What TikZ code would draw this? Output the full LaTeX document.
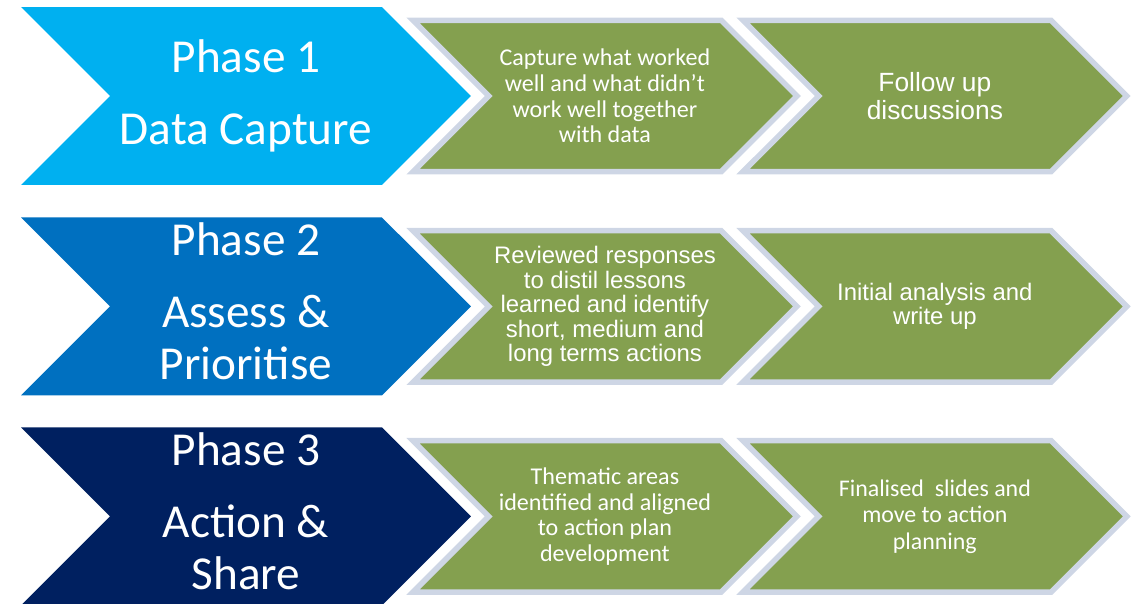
\documentclass[tikz,border=0pt]{standalone}
\usepackage{fontspec}
\usepackage{xcolor}
\usetikzlibrary{positioning,shapes.symbols}

\newfontfamily\calibri{Carlito}
\newfontfamily\arial{Liberation Sans}

\definecolor{ph1}{HTML}{00B0F0}
\definecolor{ph2}{HTML}{0070C0}
\definecolor{ph3}{HTML}{002060}
\definecolor{olv}{HTML}{84A04F}
\definecolor{rim}{HTML}{CED6E5}

\begin{document}
\begin{tikzpicture}[x=0.02cm, y=-0.02cm]
\tikzstyle{phs}=[signal, signal from=west, signal to=east, inner sep=0pt, minimum width=9cm, minimum height=3.56cm, text=white, align=center, font=\calibri\fontsize{26.9}{29.5}\selectfont]
\tikzstyle{stp}=[signal, signal from=west, signal to=east, inner sep=0pt, minimum width=7.68cm, minimum height=3.03cm, fill=olv, draw=rim, line width=0.11cm, text=white, align=center]
\tikzstyle{cal}=[font=\calibri\fontsize{13.7}{14.6}\selectfont]
\tikzstyle{ari}=[font=\arial\fontsize{13.6}{14}\selectfont]

\useasboundingbox (0,0) rectangle (1137,604);

% phases down the left
\node[phs, fill=ph1] (P1) at (246,96) {Phase 1\\[11.9pt]Data Capture};
\node[phs, fill=ph2, text depth=0.22cm, node distance=4.21cm, below of = P1] (P2) {Phase 2\\[11.9pt]Assess \&\\Prioritise};
\node[phs, fill=ph3, text depth=0.22cm, node distance=4.2cm, below of = P2] (P3) {Phase 3\\[11.9pt]Action \&\\Share};

% steps of phase 1
\node[stp, cal, node distance=7.18cm, right of = P1] (S11) {Capture what worked\\well and what didn’t\\work well together\\with data};
\node[stp, ari, font=\arial\fontsize{15}{15.5}\selectfont, node distance=6.6cm, right of = S11] (S12) {Follow up\\discussions};

% steps of phase 2
\node[stp, ari, node distance=7.18cm, right of = P2] (S21) {Reviewed responses\\to distil lessons\\learned and identify\\short, medium and\\long terms actions};
\node[stp, ari, node distance=6.6cm, right of = S21] (S22) {Initial analysis and\\write up};

% steps of phase 3
\node[stp, cal, node distance=7.18cm, right of = P3] (S31) {Thematic areas\\identified and aligned\\to action plan\\development};
\node[stp, cal, font=\calibri\fontsize{13.6}{15.1}\selectfont, node distance=6.6cm, right of = S31] (S32) {Finalised\ \ slides and\\move to action\\planning};
\end{tikzpicture}
\end{document}
